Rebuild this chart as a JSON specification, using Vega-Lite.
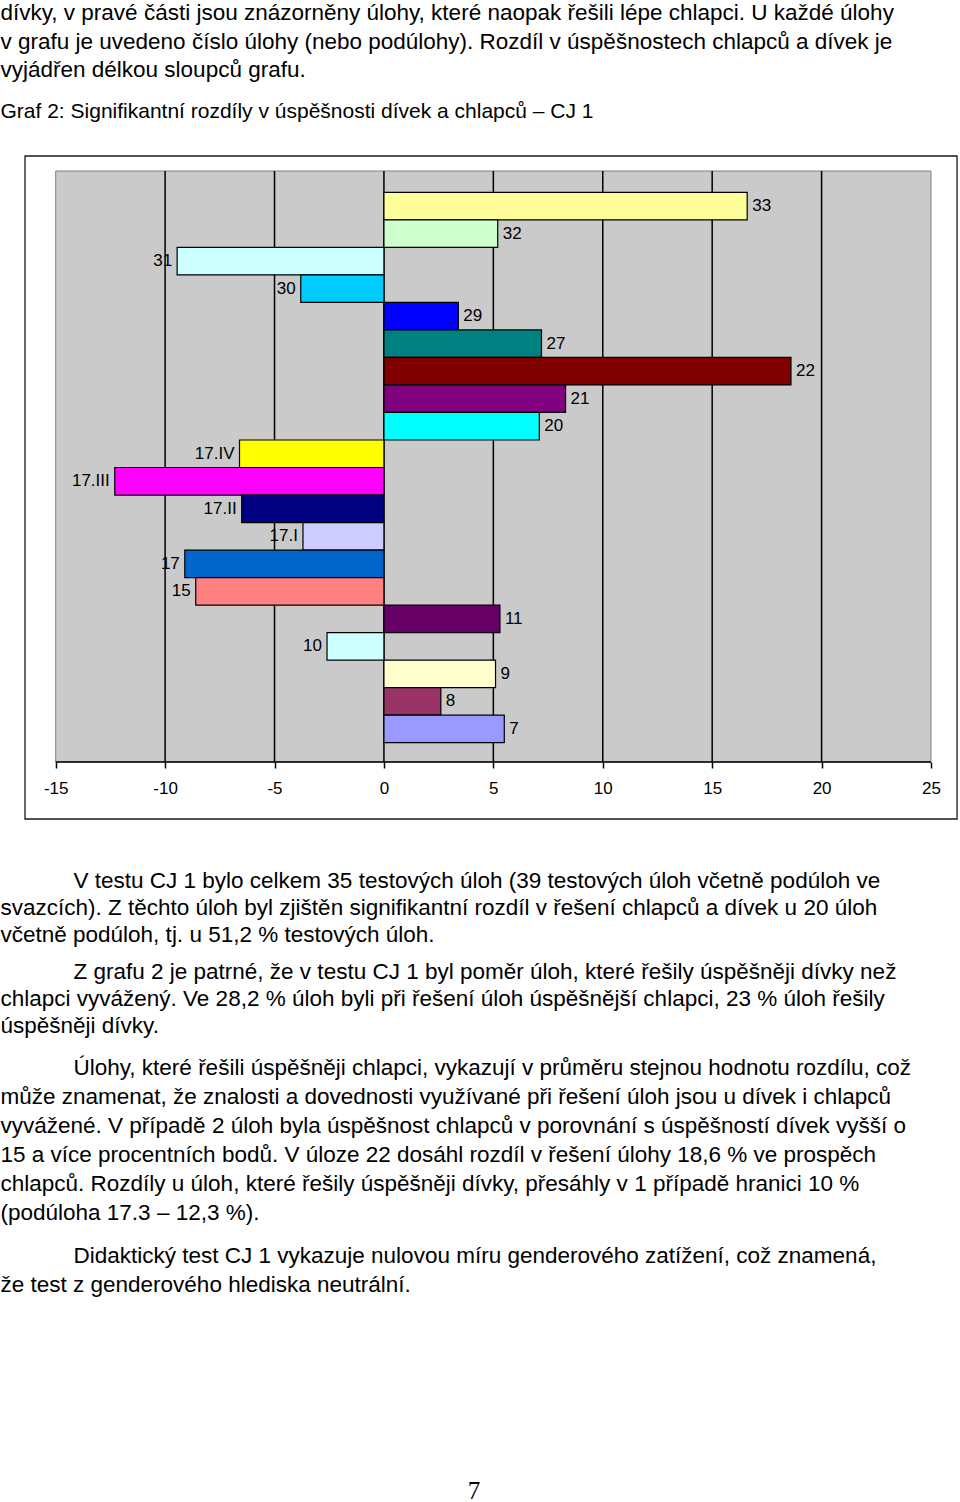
{
  "$schema": "https://vega.github.io/schema/vega-lite/v6.json",
  "padding": 0,
  "background": "white",
  "spacing": 0,
  "config": {"view": {"stroke": null}},
  "datasets": {
    "bars": [
      {"task": "33", "diff": 16.6},
      {"task": "32", "diff": 5.2},
      {"task": "31", "diff": -9.45},
      {"task": "30", "diff": -3.8},
      {"task": "29", "diff": 3.4},
      {"task": "27", "diff": 7.2},
      {"task": "22", "diff": 18.6},
      {"task": "21", "diff": 8.3},
      {"task": "20", "diff": 7.1},
      {"task": "17.IV", "diff": -6.6},
      {"task": "17.III", "diff": -12.3},
      {"task": "17.II", "diff": -6.5},
      {"task": "17.I", "diff": -3.7},
      {"task": "17", "diff": -9.1},
      {"task": "15", "diff": -8.6},
      {"task": "11", "diff": 5.3},
      {"task": "10", "diff": -2.6},
      {"task": "9", "diff": 5.1},
      {"task": "8", "diff": 2.6},
      {"task": "7", "diff": 5.5}
    ],
    "grid": [{"g": -10}, {"g": -5}, {"g": 0}, {"g": 5}, {"g": 10}, {"g": 15}, {"g": 20}],
    "text": [
      {"block": "top", "line": 1, "text": "dívky, v pravé části jsou znázorněny úlohy, které naopak řešili lépe chlapci. U každé úlohy"},
      {"block": "top", "line": 2, "text": "v grafu je uvedeno číslo úlohy (nebo podúlohy). Rozdíl v úspěšnostech chlapců a dívek je"},
      {"block": "top", "line": 3, "text": "vyjádřen délkou sloupců grafu."},
      {"block": "cap", "line": 1, "text": "Graf 2: Signifikantní rozdíly v úspěšnosti dívek a chlapců – CJ 1"},
      {"block": "p1", "line": 1, "text": "V testu CJ 1 bylo celkem 35 testových úloh (39 testových úloh včetně podúloh ve"},
      {"block": "p1", "line": 2, "text": "svazcích). Z těchto úloh byl zjištěn signifikantní rozdíl v řešení chlapců a dívek u 20 úloh"},
      {"block": "p1", "line": 3, "text": "včetně podúloh, tj. u 51,2 % testových úloh."},
      {"block": "p2", "line": 1, "text": "Z grafu 2 je patrné, že v testu CJ 1 byl poměr úloh, které řešily úspěšněji dívky než"},
      {"block": "p2", "line": 2, "text": "chlapci vyvážený. Ve 28,2 % úloh byli při řešení úloh úspěšnější chlapci, 23 % úloh řešily"},
      {"block": "p2", "line": 3, "text": "úspěšněji dívky."},
      {"block": "p3", "line": 1, "text": "Úlohy, které řešili úspěšněji chlapci, vykazují v průměru stejnou hodnotu rozdílu, což"},
      {"block": "p3", "line": 2, "text": "může znamenat, že znalosti a dovednosti využívané při řešení úloh jsou u dívek i chlapců"},
      {"block": "p3", "line": 3, "text": "vyvážené. V případě 2 úloh byla úspěšnost chlapců v porovnání s úspěšností dívek vyšší o"},
      {"block": "p3", "line": 4, "text": "15 a více procentních bodů. V úloze 22 dosáhl rozdíl v řešení úlohy 18,6 % ve prospěch"},
      {"block": "p3", "line": 5, "text": "chlapců. Rozdíly u úloh, které řešily úspěšněji dívky, přesáhly v 1 případě hranici 10 %"},
      {"block": "p3", "line": 6, "text": "(podúloha 17.3 – 12,3 %)."},
      {"block": "p4", "line": 1, "text": "Didaktický test CJ 1 vykazuje nulovou míru genderového zatížení, což znamená,"},
      {"block": "p4", "line": 2, "text": "že test z genderového hlediska neutrální."},
      {"block": "page", "line": 1, "text": "7"}
    ]
  },
  "vconcat": [
    {
      "width": 1, "height": 97,
      "data": {"name": "text"},
      "transform": [{"filter": "datum.block === 'top'"}],
      "mark": {"type": "text", "align": "left", "baseline": "alphabetic", "font": "Liberation Sans", "fontSize": 22.5, "color": "black"},
      "encoding": {
        "y": {"field": "line", "type": "ordinal", "axis": null, "scale": {"type": "point", "padding": 0.7018}},
        "text": {"field": "text"}
      }
    },
    {
      "width": 1, "height": 58,
      "data": {"name": "text"},
      "transform": [{"filter": "datum.block === 'cap'"}],
      "mark": {"type": "text", "align": "left", "baseline": "alphabetic", "font": "Liberation Sans", "fontSize": 21, "color": "black"},
      "encoding": {
        "y": {"field": "line", "type": "ordinal", "axis": null, "scale": {"type": "point", "padding": 0, "align": 0.3621}},
        "text": {"field": "text"}
      }
    },
    {
      "width": 960, "height": 591,
      "layer": [
        {
          "data": {"values": [{}]},
          "mark": {"type": "rect", "fill": "white", "stroke": "#1a1a1a", "strokeWidth": 1.3},
          "encoding": {
            "x": {"datum": -16.403, "type": "quantitative"},
            "x2": {"datum": 26.19},
            "y": {"datum": "33", "type": "nominal", "bandPosition": -1.319, "axis": null},
            "y2": {"datum": "7", "bandPosition": 3.772}
          }
        },
        {
          "data": {"values": [{}]},
          "mark": {"type": "rect", "fill": "#CACACA", "stroke": "#808080", "strokeWidth": 1},
          "encoding": {
            "x": {"datum": -15, "type": "quantitative"},
            "x2": {"datum": 25}
          }
        },
        {
          "data": {"name": "grid"},
          "mark": {"type": "rule", "color": "black", "strokeWidth": 1.5},
          "encoding": {
            "x": {"field": "g", "type": "quantitative"}
          }
        },
        {
          "data": {"values": [{}]},
          "mark": {"type": "rule", "color": "black", "strokeWidth": 1.5},
          "encoding": {
            "x": {"datum": -15, "type": "quantitative"},
            "x2": {"datum": 25},
            "y": {"datum": "7", "type": "nominal", "bandPosition": 1.701, "axis": null}
          }
        },
        {
          "data": {"name": "bars"},
          "mark": {"type": "bar", "stroke": "black", "strokeWidth": 1.2},
          "encoding": {
            "y": {
              "field": "task", "type": "nominal", "axis": null,
              "scale": {
                "domain": ["33", "32", "31", "30", "29", "27", "22", "21", "20", "17.IV", "17.III", "17.II", "17.I", "17", "15", "11", "10", "9", "8", "7"],
                "paddingInner": 0, "paddingOuter": 0.7376, "align": 0.525
              }
            },
            "x": {
              "field": "diff", "type": "quantitative",
              "scale": {"domain": [-17.545, 26.325], "nice": false, "zero": false},
              "axis": {
                "values": [-15, -10, -5, 0, 5, 10, 15, 20, 25],
                "labelExpr": "'' + datum.value",
                "domain": false, "grid": false, "zindex": 1,
                "ticks": true, "tickSize": 6, "tickColor": "black", "tickWidth": 1.5,
                "labelFont": "Liberation Sans", "labelFontSize": 17, "labelColor": "black",
                "labelPadding": 12, "labelFlush": false, "labelOverlap": false, "title": null
              }
            },
            "x2": {"datum": 0},
            "color": {
              "field": "task", "type": "nominal", "legend": null,
              "scale": {
                "domain": ["33", "32", "31", "30", "29", "27", "22", "21", "20", "17.IV", "17.III", "17.II", "17.I", "17", "15", "11", "10", "9", "8", "7"],
                "range": ["#FFFF99", "#CCFFCC", "#CCFFFF", "#00CCFF", "#0000FF", "#008080", "#800000", "#800080", "#00FFFF", "#FFFF00", "#FF00FF", "#000080", "#CCCCFF", "#0066CC", "#FF8080", "#660066", "#CCFFFF", "#FFFFCC", "#993366", "#9999FF"]
              }
            }
          }
        },
        {
          "data": {"name": "bars"},
          "mark": {
            "type": "text", "font": "Liberation Sans", "fontSize": 17, "color": "black", "baseline": "middle",
            "align": {"expr": "datum.diff < 0 ? 'right' : 'left'"},
            "dx": {"expr": "datum.diff < 0 ? -5 : 5"}
          },
          "encoding": {
            "y": {"field": "task", "type": "nominal", "axis": null},
            "x": {"field": "diff", "type": "quantitative"},
            "text": {"field": "task"}
          }
        }
      ]
    },
    {
      "width": 1, "height": 135,
      "data": {"name": "text"},
      "transform": [{"filter": "datum.block === 'p1'"}],
      "mark": {"type": "text", "align": "left", "baseline": "alphabetic", "font": "Liberation Sans", "fontSize": 22.5, "color": "black", "dx": {"expr": "datum.line === 1 ? 73 : 0"}},
      "encoding": {
        "y": {"field": "line", "type": "ordinal", "axis": null, "scale": {"type": "band", "paddingInner": 0, "paddingOuter": 1, "align": 1}},
        "text": {"field": "text"}
      }
    },
    {
      "width": 1, "height": 100,
      "data": {"name": "text"},
      "transform": [{"filter": "datum.block === 'p2'"}],
      "mark": {"type": "text", "align": "left", "baseline": "alphabetic", "font": "Liberation Sans", "fontSize": 22.5, "color": "black", "dx": {"expr": "datum.line === 1 ? 73 : 0"}},
      "encoding": {
        "y": {"field": "line", "type": "ordinal", "axis": null, "scale": {"type": "point", "padding": 0.8519, "align": 0.5217}},
        "text": {"field": "text"}
      }
    },
    {
      "width": 1, "height": 188,
      "data": {"name": "text"},
      "transform": [{"filter": "datum.block === 'p3'"}],
      "mark": {"type": "text", "align": "left", "baseline": "alphabetic", "font": "Liberation Sans", "fontSize": 22.5, "color": "black", "dx": {"expr": "datum.line === 1 ? 73 : 0"}},
      "encoding": {
        "y": {"field": "line", "type": "ordinal", "axis": null, "scale": {"type": "point", "padding": 0.7414, "align": 0.4651}},
        "text": {"field": "text"}
      }
    },
    {
      "width": 1, "height": 58,
      "data": {"name": "text"},
      "transform": [{"filter": "datum.block === 'p4'"}],
      "mark": {"type": "text", "align": "left", "baseline": "alphabetic", "font": "Liberation Sans", "fontSize": 22.5, "color": "black", "dx": {"expr": "datum.line === 1 ? 73 : 0"}},
      "encoding": {
        "y": {"field": "line", "type": "ordinal", "axis": null, "scale": {"type": "point", "padding": 0.5, "align": 0.6897}},
        "text": {"field": "text"}
      }
    },
    {
      "width": 948, "height": 200,
      "data": {"name": "text"},
      "transform": [{"filter": "datum.block === 'page'"}],
      "mark": {"type": "text", "align": "center", "baseline": "alphabetic", "font": "Liberation Serif", "fontSize": 25, "color": "black"},
      "encoding": {
        "y": {"field": "line", "type": "ordinal", "axis": null, "scale": {"type": "point", "padding": 0, "align": 0.99}},
        "text": {"field": "text"}
      }
    }
  ]
}
